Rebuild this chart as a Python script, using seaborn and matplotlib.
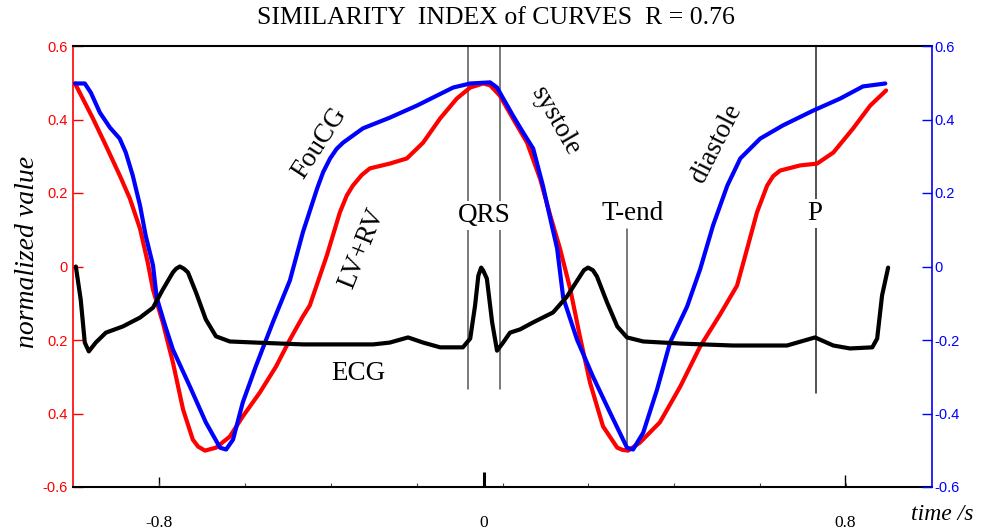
import numpy as np
import pandas as pd
import matplotlib
matplotlib.use("Agg")
import matplotlib.pyplot as plt
import seaborn as sns
from matplotlib.ticker import FixedLocator

# ---------------- data ----------------
lv_rv_t = [-1.007, -0.988, -0.963, -0.931, -0.897, -0.872, -0.847, -0.828, -0.815, -0.791,
           -0.766, -0.741, -0.717, -0.704, -0.687, -0.660, -0.626, -0.594, -0.552, -0.512,
           -0.478, -0.446, -0.429, -0.387, -0.355, -0.338, -0.323, -0.301, -0.281, -0.232,
           -0.190, -0.150, -0.108, -0.067, -0.034, -0.002, 0.015, 0.039, 0.071, 0.106,
           0.138, 0.163, 0.187, 0.212, 0.236, 0.261, 0.293, 0.328, 0.341, 0.355,
           0.384, 0.433, 0.483, 0.532, 0.581, 0.623, 0.648, 0.672, 0.697, 0.712,
           0.729, 0.778, 0.820, 0.860, 0.909, 0.951, 0.990]
lv_rv_v = [0.498, 0.457, 0.403, 0.329, 0.248, 0.185, 0.103, 0.011, -0.063, -0.152,
           -0.261, -0.389, -0.471, -0.490, -0.501, -0.493, -0.463, -0.408, -0.343, -0.272,
           -0.199, -0.136, -0.106, 0.030, 0.147, 0.193, 0.220, 0.249, 0.267, 0.280,
           0.294, 0.337, 0.403, 0.457, 0.487, 0.498, 0.493, 0.465, 0.403, 0.337,
           0.239, 0.139, 0.049, -0.060, -0.190, -0.316, -0.435, -0.493, -0.499, -0.501,
           -0.479, -0.424, -0.327, -0.218, -0.131, -0.052, 0.049, 0.147, 0.220, 0.246,
           0.261, 0.275, 0.280, 0.310, 0.376, 0.438, 0.479]

foucg_t = [-1.007, -0.983, -0.968, -0.946, -0.921, -0.897, -0.882, -0.865, -0.847, -0.833,
           -0.815, -0.806, -0.786, -0.766, -0.724, -0.685, -0.650, -0.635, -0.618, -0.594,
           -0.562, -0.520, -0.478, -0.446, -0.411, -0.396, -0.379, -0.363, -0.347, -0.298,
           -0.232, -0.165, -0.116, -0.076, -0.034, 0.015, 0.032, 0.071, 0.096, 0.121,
           0.145, 0.163, 0.180, 0.195, 0.229, 0.268, 0.310, 0.352, 0.367, 0.392,
           0.426, 0.458, 0.500, 0.532, 0.564, 0.599, 0.631, 0.680, 0.736, 0.810,
           0.877, 0.933, 0.988]
foucg_v = [0.498, 0.498, 0.473, 0.419, 0.378, 0.348, 0.310, 0.248, 0.166, 0.084,
           0.003, -0.084, -0.158, -0.226, -0.327, -0.424, -0.493, -0.498, -0.471, -0.370,
           -0.272, -0.152, -0.038, 0.093, 0.212, 0.257, 0.294, 0.320, 0.337, 0.376,
           0.405, 0.438, 0.465, 0.487, 0.498, 0.501, 0.487, 0.411, 0.365, 0.321,
           0.220, 0.131, 0.049, -0.085, -0.199, -0.299, -0.397, -0.493, -0.498, -0.452,
           -0.335, -0.207, -0.109, -0.008, 0.112, 0.220, 0.294, 0.348, 0.384, 0.424,
           0.457, 0.490, 0.498]

ecg_t = [-1.005, -0.993, -0.983, -0.973, -0.956, -0.931, -0.889, -0.847, -0.815, -0.791,
         -0.766, -0.758, -0.749, -0.739, -0.729, -0.709, -0.685, -0.660, -0.626, -0.562,
         -0.446, -0.273, -0.232, -0.187, -0.150, -0.108, -0.052, -0.034, -0.022, -0.014,
         -0.007, -0.002, 0.007, 0.020, 0.032, 0.047, 0.064, 0.089, 0.121, 0.170,
         0.204, 0.236, 0.246, 0.256, 0.268, 0.278, 0.303, 0.328, 0.352, 0.392,
         0.490, 0.613, 0.746, 0.815, 0.860, 0.901, 0.956, 0.968, 0.980, 0.995]
ecg_v = [0.000, -0.090, -0.207, -0.231, -0.207, -0.180, -0.163, -0.139, -0.112, -0.063,
         -0.016, -0.006, 0.000, -0.006, -0.016, -0.071, -0.144, -0.190, -0.204, -0.207,
         -0.212, -0.212, -0.207, -0.193, -0.207, -0.220, -0.220, -0.196, -0.106, -0.025,
         -0.003, -0.011, -0.033, -0.152, -0.229, -0.207, -0.180, -0.171, -0.152, -0.125,
         -0.082, -0.027, -0.010, -0.003, -0.010, -0.027, -0.098, -0.163, -0.193, -0.204,
         -0.210, -0.215, -0.215, -0.193, -0.215, -0.223, -0.220, -0.196, -0.079, -0.003]

y_ticks = [-0.6, -0.4, -0.2, 0.0, 0.2, 0.4, 0.6]
left_tick_labels = ["-0.6", "0.4", "0.2", "0", "0.2", "0.4", "0.6"]
right_tick_labels = ["-0.6", "-0.4", "-0.2", "0", "0.2", "0.4", "0.6"]
x_tick_pos = [-0.8, 0.0, 0.89]
x_tick_labels = ["-0.8", "0", "0.8"]

title = "SIMILARITY  INDEX of CURVES  R = 0.76"

# ---------------- styling ----------------
sns.set_theme(style="white")
plt.rcParams["font.family"] = ["Liberation Serif", "DejaVu Serif"]
plt.rcParams["text.color"] = "black"

RED = "#ff0000"
BLUE = "#0000ff"

fig = plt.figure(figsize=(9.83, 5.30), dpi=100)
ax = fig.add_axes([73 / 983, 43 / 530, 859 / 983, 441 / 530])

xlim = (-1.012, 1.103)
ylim = (-0.6, 0.6)

lw = 3.0
kw = dict(sort=False, estimator=None, solid_joinstyle="round", solid_capstyle="round")
sns.lineplot(x=lv_rv_t, y=lv_rv_v, ax=ax, color=RED, lw=lw, zorder=3, **kw)
sns.lineplot(x=foucg_t, y=foucg_v, ax=ax, color=BLUE, lw=lw, zorder=4, **kw)
sns.lineplot(x=ecg_t, y=ecg_v, ax=ax, color="black", lw=lw, zorder=5, **kw)

# marker lines
lc = "#555555"
ax.plot([-0.039, -0.039], [-0.332, 0.6], color=lc, lw=1.1, zorder=1)
ax.plot([0.039, 0.039], [-0.332, 0.6], color=lc, lw=1.1, zorder=1)
ax.plot([0.352, 0.352], [-0.50, 0.103], color=lc, lw=1.1, zorder=1)
ax.plot([0.818, 0.818], [-0.343, 0.6], color="#222222", lw=1.1, zorder=1)

ax.set_xlim(*xlim)
ax.set_ylim(*ylim)

# spines
for side in ["top", "bottom"]:
    ax.spines[side].set_color("black")
    ax.spines[side].set_linewidth(1.5)
ax.spines["left"].set_color(RED)
ax.spines["left"].set_linewidth(1.2)
ax.spines["right"].set_visible(False)

# y ticks (left)
ax.set_yticks(y_ticks)
ax.set_yticklabels(left_tick_labels, fontfamily="Liberation Sans", fontsize=10.5)
ax.tick_params(axis="y", left=True, direction="in", length=7, width=1.0,
               color=RED, labelcolor=RED, pad=4)

# x ticks
ax.set_xticks(x_tick_pos)
ax.set_xticklabels(x_tick_labels, fontsize=12.5)
ax.tick_params(axis="x", bottom=True, direction="in", length=6, width=1.0,
               color="black", labelcolor="black", pad=20)
minor = list(np.linspace(xlim[0], xlim[1], 11)[1:-1])
ax.xaxis.set_minor_locator(FixedLocator(minor))
ax.tick_params(axis="x", which="minor", bottom=True, direction="in", length=3,
               width=0.8, color="#444444")
mt = ax.xaxis.get_major_ticks()
mt[1].tick1line.set_markersize(11)
mt[1].tick1line.set_markeredgewidth(2.2)
mt[2].tick1line.set_markersize(9)
mt[0].tick1line.set_markersize(7)

# right axis
ax2 = ax.twinx()
ax2.set_ylim(*ylim)
ax2.set_yticks(y_ticks)
ax2.set_yticklabels(right_tick_labels, fontfamily="Liberation Sans", fontsize=10.5)
ax2.tick_params(axis="y", right=True, direction="in", length=7, width=1.0,
                color=BLUE, labelcolor=BLUE, pad=2)
for side in ["top", "bottom", "left"]:
    ax2.spines[side].set_visible(False)
ax2.spines["right"].set_color(BLUE)
ax2.spines["right"].set_linewidth(1.2)
ax2.grid(False)
ax.grid(False)

# annotations
fs = 19.5
bb = dict(facecolor="white", edgecolor="none", pad=1.5)
tk = dict(fontsize=fs, ha="center", va="center", zorder=6, color="black")
ax.text(-0.404, 0.335, "FouCG", rotation=57, **tk)
ax.text(-0.300, 0.049, "LV+RV", rotation=68, **tk)
ax.text(-0.310, -0.291, "ECG", **tk)
ax.text(0.0, 0.139, "QRS", bbox=bb, **tk)
ax.text(0.177, 0.395, "systole", rotation=-60, **tk)
ax.text(0.367, 0.144, "T-end", **tk)
ax.text(0.571, 0.335, "diastole", rotation=63, **tk)
ax.text(0.815, 0.144, "P", bbox=bb, **tk)

fig.text(496 / 983, 1 - 18 / 530, title, fontsize=18.5, ha="center", va="center",
         color="black")
fig.text(28 / 983, 1 - 252 / 530, "normalized value", rotation=90, fontsize=20,
         fontstyle="italic", ha="center", va="center", color="black")
fig.text(942 / 983, 1 - 515 / 530, "time /s", fontsize=17, fontstyle="italic",
         ha="center", va="center", color="black")

fig.savefig("out.png", dpi=100)
